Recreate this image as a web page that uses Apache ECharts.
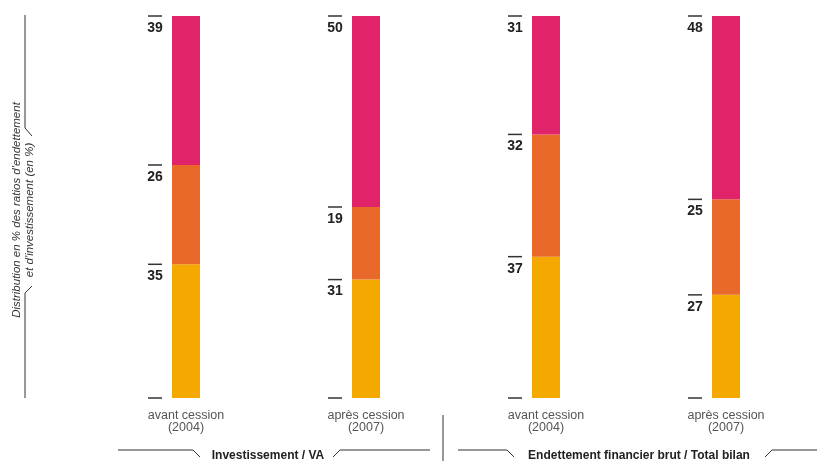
<!DOCTYPE html>
<html>
<head>
<meta charset="utf-8">
<script src="https://cdn.jsdelivr.net/npm/echarts@6/dist/echarts.min.js"></script>
<style>
html,body{margin:0;padding:0;background:#fff;}
#chart{width:817px;height:461px;}
</style>
</head>
<body>
<div id="chart"></div>
<script>
var categories = ['avant cession\n(2004)', 'après cession\n(2007)', 'avant cession\n(2004)', 'après cession\n(2007)'];
var bottomValues = [35, 31, 37, 27];   // yellow
var middleValues = [26, 19, 32, 25];   // orange
var topValues = [39, 50, 31, 48];      // pink
var groupLabels = ['Investissement / VA', 'Endettement financier brut / Total bilan'];
var axisTitle = ["Distribution en % des ratios d'endettement", "et d'investissement (en %)"];

var COLORS = ['#F5A800', '#E8692A', '#E1246A'];
var FONT = 'Liberation Sans, Arial, sans-serif';

var chart = echarts.init(document.getElementById('chart'));

function labelRender(params, api) {
  var i = api.value(0);
  var segs = [bottomValues[i], middleValues[i], topValues[i]];
  var children = [];
  var cum = 0;
  var p0 = api.coord([i, 0]);
  var cx = p0[0] - 31;
  children.push({type: 'line', shape: {x1: cx - 7, y1: p0[1], x2: cx + 7, y2: p0[1]}, style: {stroke: '#333', lineWidth: 1.5}});
  for (var k = 0; k < segs.length; k++) {
    cum += segs[k];
    var p = api.coord([i, cum]);
    children.push({type: 'line', shape: {x1: cx - 7, y1: p[1], x2: cx + 7, y2: p[1]}, style: {stroke: '#333', lineWidth: 1.5}});
    children.push({type: 'text', style: {text: String(segs[k]), x: cx, y: p[1] + 5, textAlign: 'center', textVerticalAlign: 'top', fontFamily: FONT, fontWeight: 'bold', fontSize: 14, fill: '#222'}});
  }
  return {type: 'group', children: children};
}

var lineStyle = {stroke: '#333', lineWidth: 1};
function seg(x1, y1, x2, y2) { return {type: 'line', shape: {x1: x1, y1: y1, x2: x2, y2: y2}, style: lineStyle, silent: true}; }

var option = {
  animation: false,
  backgroundColor: '#fff',
  grid: {left: 96, right: 1, top: 16, bottom: 63},
  xAxis: {
    type: 'category',
    data: categories,
    axisLine: {show: false},
    axisTick: {show: false},
    axisLabel: {margin: 12, fontFamily: FONT, fontSize: 12.5, color: '#555', lineHeight: 12}
  },
  yAxis: {type: 'value', min: 0, max: 100, show: false},
  series: [
    {type: 'bar', stack: 's', barWidth: 28, data: bottomValues, itemStyle: {color: COLORS[0]}},
    {type: 'bar', stack: 's', barWidth: 28, data: middleValues, itemStyle: {color: COLORS[1]}},
    {type: 'bar', stack: 's', barWidth: 28, data: topValues, itemStyle: {color: COLORS[2]}},
    {type: 'custom', renderItem: labelRender, clip: false, data: [[0], [1], [2], [3]], encode: {x: 0}, z: 5}
  ],
  graphic: [
    // left vertical title with bracket
    seg(25, 15, 25, 128),
    seg(25, 128, 32, 136),
    seg(32, 286, 25, 293),
    seg(25, 293, 25, 398),
    {type: 'text', x: 17, y: 210, rotation: Math.PI / 2, style: {text: axisTitle[0], textAlign: 'center', textVerticalAlign: 'middle', fontFamily: FONT, fontStyle: 'italic', fontSize: 11.5, fill: '#333'}},
    {type: 'text', x: 29.5, y: 210, rotation: Math.PI / 2, style: {text: axisTitle[1], textAlign: 'center', textVerticalAlign: 'middle', fontFamily: FONT, fontStyle: 'italic', fontSize: 11.5, fill: '#333'}},
    // bottom group labels
    seg(118, 450, 193, 450),
    seg(193, 450, 200, 457),
    {type: 'text', x: 268, y: 456, style: {text: groupLabels[0], textAlign: 'center', textVerticalAlign: 'middle', fontFamily: FONT, fontWeight: 'bold', fontSize: 12, fill: '#222'}},
    seg(333, 457, 340, 450),
    seg(340, 450, 430, 450),
    seg(443, 415, 443, 461),
    seg(458, 450, 507, 450),
    seg(507, 450, 514, 457),
    {type: 'text', x: 639, y: 456, style: {text: groupLabels[1], textAlign: 'center', textVerticalAlign: 'middle', fontFamily: FONT, fontWeight: 'bold', fontSize: 12, fill: '#222'}},
    seg(765, 457, 772, 450),
    seg(772, 450, 817, 450)
  ]
};
chart.setOption(option);
</script>
</body>
</html>
